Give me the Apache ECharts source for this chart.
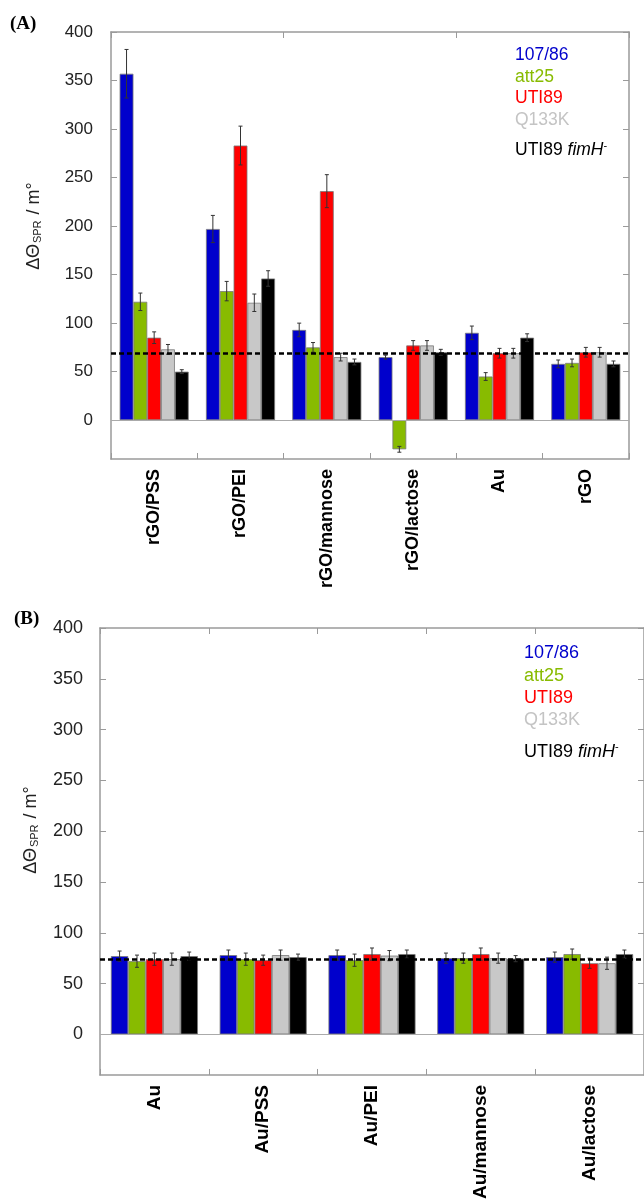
<!DOCTYPE html>
<html><head><meta charset="utf-8">
<script src="https://cdn.jsdelivr.net/npm/echarts@6/dist/echarts.min.js"></script>
<style>html,body{margin:0;padding:0;background:#fff}#c{width:644px;height:1202px}</style>
</head><body><div id="c"></div>
<script>
// ---------- data ----------
const seriesNames = ['107/86', 'att25', 'UTI89', 'Q133K', 'UTI89 fimH-'];
const seriesColors = ['#0000cc', '#88bb00', '#ff0000', '#c8c8c8', '#000000'];
const yTickValues = [0, 50, 100, 150, 200, 250, 300, 350, 400];

// Panel A
const categoriesA = ['rGO/PSS', 'rGO/PEI', 'rGO/mannose', 'rGO/lactose', 'Au', 'rGO'];
const s10786A = [357, 197, 93, 65, 90, 58];
const att25A  = [122, 133, 75, -30, 45, 59];
const uti89A  = [85, 283, 236, 77, 69, 70];
const q133kA  = [73, 121, 65, 77, 69, 70];
const fimhA   = [50, 146, 60, 70, 85, 58];
const s10786ErrA = [25, 14, 7, 2, 7, 4];
const att25ErrA  = [9, 10, 5, 3, 4, 4];
const uti89ErrA  = [6, 20, 17, 5, 5, 5];
const q133kErrA  = [5, 9, 4, 5, 5, 5];
const fimhErrA   = [2, 8, 3, 3, 4, 3];
const baselineA = 69;

// Panel B
const categoriesB = ['Au', 'Au/PSS', 'Au/PEI', 'Au/mannose', 'Au/lactose'];
const s10786B = [77, 78, 78, 75, 76];
const att25B  = [72, 74, 73, 75, 79];
const uti89B  = [74, 73, 79, 79, 70];
const q133kB  = [74, 78, 77.5, 75, 70];
const fimhB   = [77, 76, 79, 74.5, 79];
const s10786ErrB = [5, 5, 5, 5, 5];
const att25ErrB  = [6, 6, 6, 5, 5];
const uti89ErrB  = [6, 5, 6, 6, 5];
const q133kErrB  = [6, 5, 5, 5, 6];
const fimhErrB   = [4, 3, 4, 3, 4];
const baselineB = 74;

// ---------- build ----------
const FONT = 'Liberation Sans, Arial, sans-serif';
const axisColor = '#9a9a9a';

function xAxes(g, cats, labelSize) {
  const base = {
    type: 'category', gridIndex: g, data: cats,
    axisLine: { show: true, onZero: false, lineStyle: { color: axisColor, width: 1.5 } },
    axisTick: { show: true, inside: true, length: 6, lineStyle: { color: axisColor, width: 1 } },
    splitLine: { show: false }
  };
  return [
    Object.assign({}, base, { position: 'bottom',
      axisLabel: { rotate: 90, interval: 0, fontWeight: 'bold', fontSize: labelSize, color: '#000', margin: 10, fontFamily: FONT } }),
    Object.assign({}, base, { position: 'top', axisLabel: { show: false } })
  ];
}
function yAxes(g, labelSize, margin) {
  const base = {
    type: 'value', gridIndex: g, min: -40, max: 400,
    axisLine: { show: true, lineStyle: { color: axisColor, width: 1.5 } },
    axisTick: { show: true, inside: true, length: 6, customValues: yTickValues, lineStyle: { color: axisColor, width: 1 } },
    splitLine: { show: false }
  };
  return [
    Object.assign({}, base, { position: 'left',
      axisLabel: { customValues: yTickValues, fontSize: labelSize, color: '#222', margin: margin, fontFamily: FONT } }),
    Object.assign({}, base, { position: 'right', axisLabel: { show: false } })
  ];
}

function barSeries(i, data, xi, yi, zeroLine) {
  const s = {
    type: 'bar', name: seriesNames[i], xAxisIndex: xi, yAxisIndex: yi, data: data,
    barGap: '0%', barCategoryGap: '20%', silent: true,
    itemStyle: { color: seriesColors[i], borderColor: '#7a7a7a', borderWidth: 0.8 }
  };
  if (zeroLine) {
    s.markLine = { silent: true, symbol: 'none', label: { show: false },
      data: [{ yAxis: 0, lineStyle: { color: '#aaaaaa', type: 'solid', width: 1 } }] };
  }
  return s;
}
function errSeries(i, vals, errs, xi, yi, baseline) {
  const s = {
    type: 'custom', xAxisIndex: xi, yAxisIndex: yi, z: 5, silent: true,
    data: vals.map((v, k) => [k, v, errs[k]]),
    encode: { x: 0, y: 1 },
    renderItem: function (params, api) {
      const c = api.value(0), v = api.value(1), e = api.value(2);
      const catW = api.size([1, 0])[0];
      const bw = catW * 0.8 / 5;
      const x = api.coord([c, v])[0] + (i - 2) * bw;
      const yT = api.coord([c, v + e])[1];
      const yB = api.coord([c, v - e])[1];
      const cap = 2;
      const st = { stroke: '#333', lineWidth: 1 };
      return { type: 'group', children: [
        { type: 'line', shape: { x1: x, y1: yT, x2: x, y2: yB }, style: st },
        { type: 'line', shape: { x1: x - cap, y1: yT, x2: x + cap, y2: yT }, style: st },
        { type: 'line', shape: { x1: x - cap, y1: yB, x2: x + cap, y2: yB }, style: st }
      ] };
    }
  };
  if (baseline !== undefined) {
    s.markLine = { silent: true, symbol: 'none', label: { show: false }, z: 10,
      data: [{ yAxis: baseline, lineStyle: { color: '#000', type: [5, 3], width: 2.5 } }] };
  }
  return s;
}

function legendGraphics(x, ys, size) {
  return seriesNames.map((n, i) => {
    const style = { x: x, y: ys[i], fill: seriesColors[i], fontSize: size, fontFamily: FONT, verticalAlign: 'middle', align: 'left' };
    if (i === 4) {
      style.text = '{n|UTI89 }{it|fimH}{sp|-}';
      style.rich = {
        n: { fontSize: size, fontFamily: FONT, fill: '#000' },
        it: { fontSize: size, fontFamily: FONT, fontStyle: 'italic', fill: '#000' },
        sp: { fontSize: 11, fontFamily: FONT, fill: '#000', padding: [0, 0, 9, 0] }
      };
    } else {
      style.text = n;
      if (i === 3) style.fill = '#c4c4c4';
    }
    return { type: 'text', silent: true, style: style };
  });
}
function yTitle(x, y) {
  return { type: 'text', x: x, y: y, rotation: Math.PI / 2, silent: true,
    style: { text: '{a|ΔΘ}{s|SPR}{a| / m°}', align: 'center', verticalAlign: 'middle',
      rich: {
        a: { fontSize: 18, fontFamily: FONT, fill: '#222', lineHeight: 22 },
        s: { fontSize: 11, fontFamily: FONT, fill: '#222', lineHeight: 22, padding: [8, 1, 0, 1] }
      } } };
}

const seriesA = [s10786A, att25A, uti89A, q133kA, fimhA];
const errsA = [s10786ErrA, att25ErrA, uti89ErrA, q133kErrA, fimhErrA];
const seriesB = [s10786B, att25B, uti89B, q133kB, fimhB];
const errsB = [s10786ErrB, att25ErrB, uti89ErrB, q133kErrB, fimhErrB];

const series = [];
seriesA.forEach((d, i) => series.push(barSeries(i, d, 0, 0, i === 0)));
seriesA.forEach((d, i) => series.push(errSeries(i, d, errsA[i], 0, 0, i === 4 ? baselineA : undefined)));
seriesB.forEach((d, i) => series.push(barSeries(i, d, 2, 2, i === 0)));
seriesB.forEach((d, i) => series.push(errSeries(i, d, errsB[i], 2, 2, i === 4 ? baselineB : undefined)));

const option = {
  animation: false,
  backgroundColor: '#ffffff',
  grid: [
    { left: 111, top: 32, width: 518, height: 427 },
    { left: 100, top: 628, width: 545, height: 449 }
  ],
  xAxis: xAxes(0, categoriesA, 18).concat(xAxes(1, categoriesB, 19)),
  yAxis: yAxes(0, 17, 18).concat(yAxes(1, 18, 17)),
  graphic: [
    { type: 'text', left: 10, top: 15, silent: true,
      style: { text: '(A)', fontSize: 19, fontWeight: 'bold', fontFamily: 'Liberation Serif, Times New Roman, serif', fill: '#000' } },
    { type: 'text', left: 14, top: 610, silent: true,
      style: { text: '(B)', fontSize: 19, fontWeight: 'bold', fontFamily: 'Liberation Serif, Times New Roman, serif', fill: '#000' } },
    yTitle(34, 226),
    yTitle(31, 830)
  ].concat(legendGraphics(515, [55, 76.7, 98.3, 120, 150], 17.5))
   .concat(legendGraphics(524, [653, 675.7, 697.7, 720, 751.7], 18)),
  series: series
};
const chart = echarts.init(document.getElementById('c'), null, { renderer: 'canvas' });
chart.setOption(option);
</script>
</body></html>
